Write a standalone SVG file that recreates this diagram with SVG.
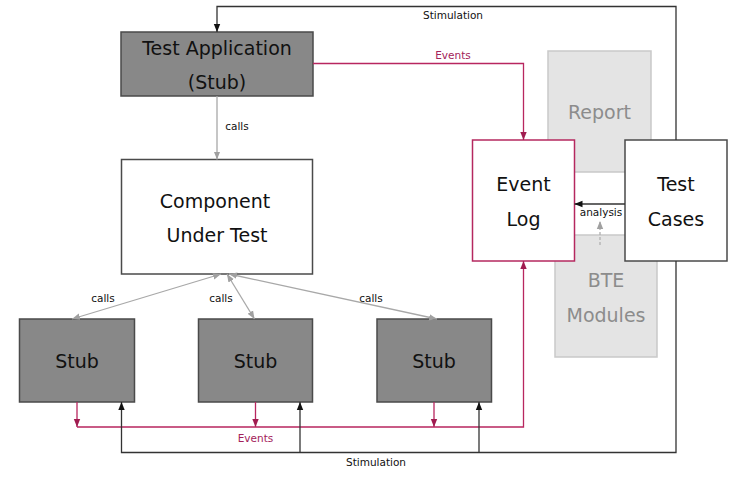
<svg xmlns="http://www.w3.org/2000/svg" width="748" height="478" viewBox="0 0 748 478">
<style>
text{font-family:"DejaVu Sans","Verdana",sans-serif;text-anchor:middle}
.big{font-size:19px;fill:#111}
.ghost{font-size:19px;fill:#8c8c8c}
.sm{font-size:10.5px;fill:#111}
.smp{font-size:10.5px;fill:#a3225a}
.stub{fill:#888;stroke:#4a4a4a;stroke-width:1.5}
.white{fill:#fff;stroke:#4a4a4a;stroke-width:1.5}
.log{fill:#fff;stroke:#b5285f;stroke-width:1.5}
.pale{fill:#e4e4e4;stroke:#c9c9c9;stroke-width:1.5}
.blk{fill:none;stroke:#333;stroke-width:1.3}
.pink{fill:none;stroke:#b8265f;stroke-width:1.3}
.gry{fill:none;stroke:#a8a8a8;stroke-width:1.3}
.dash{fill:none;stroke:#b0b0b0;stroke-width:1.3;stroke-dasharray:3,2}
</style>
<defs>
<marker id="ab" markerUnits="userSpaceOnUse" markerWidth="8" markerHeight="8" viewBox="0 0 8 8" refX="8" refY="4" orient="auto"><path d="M0,0.8 L8,4 L0,7.2z" fill="#111"/></marker>
<marker id="ap" markerUnits="userSpaceOnUse" markerWidth="8" markerHeight="8" viewBox="0 0 8 8" refX="8" refY="4" orient="auto"><path d="M0,0.8 L8,4 L0,7.2z" fill="#a01c50"/></marker>
<marker id="ag" markerUnits="userSpaceOnUse" markerWidth="8" markerHeight="8" viewBox="0 0 8 8" refX="8" refY="4" orient="auto-start-reverse"><path d="M0,0.8 L8,4 L0,7.2z" fill="#a0a0a0"/></marker>
</defs>
<g id="bte"><rect class="pale" x="555" y="235" width="102" height="122"/><text class="ghost" x="606" y="287">BTE</text><text class="ghost" x="606" y="321.5">Modules</text></g>
<g id="report"><rect class="pale" x="548" y="51" width="103" height="121"/><text class="ghost" x="599.5" y="119">Report</text></g>
<g id="event-log"><rect class="log" x="472.5" y="140" width="102" height="121"/><text class="big" x="523.5" y="190.5">Event</text><text class="big" x="523.5" y="225.5">Log</text></g>
<g id="test-cases"><rect class="white" x="625" y="140" width="102" height="121"/><text class="big" x="676" y="190.5">Test</text><text class="big" x="676" y="225.5">Cases</text></g>
<g id="test-app"><rect class="stub" x="121" y="32" width="192" height="64"/><text class="big" x="217" y="55">Test Application</text><text class="big" x="217" y="88.5">(Stub)</text></g>
<g id="cut"><rect class="white" x="121.5" y="159.5" width="191" height="114.5"/><text class="big" x="215" y="208">Component</text><text class="big" x="217" y="242">Under Test</text></g>
<g id="stub1"><rect class="stub" x="19.5" y="319" width="115" height="83"/><text class="big" x="77" y="368">Stub</text></g>
<g id="stub2"><rect class="stub" x="198.5" y="319" width="114" height="83"/><text class="big" x="255.5" y="368">Stub</text></g>
<g id="stub3"><rect class="stub" x="377" y="319" width="114.5" height="83"/><text class="big" x="434" y="368">Stub</text></g>
<g id="connectors">
<path class="blk" d="M676,140 V6.5 H217 V32" marker-end="url(#ab)"/>
<text class="sm" x="453" y="19">Stimulation</text>
<path class="pink" d="M313,63.5 H523.5 V140" marker-end="url(#ap)"/>
<text class="smp" x="453" y="59">Events</text>
<path class="gry" d="M217,96 V159.5" marker-end="url(#ag)"/>
<text class="sm" x="237" y="129.5">calls</text>
<path class="gry" d="M221,274 L72,319" marker-start="url(#ag)" marker-end="url(#ag)"/>
<path class="gry" d="M227,274 L254.5,319" marker-start="url(#ag)" marker-end="url(#ag)"/>
<path class="gry" d="M229,274 L437,319" marker-start="url(#ag)" marker-end="url(#ag)"/>
<text class="sm" x="103" y="301.5">calls</text>
<text class="sm" x="221" y="301.5">calls</text>
<text class="sm" x="371" y="301.5">calls</text>
<path class="blk" d="M625,204 H574.5" marker-end="url(#ab)"/>
<text class="sm" x="601" y="216">analysis</text>
<path class="dash" d="M600,245 V221" marker-end="url(#ag)"/>
<path class="pink" d="M77,402 V427" marker-end="url(#ap)"/>
<path class="pink" d="M255.5,402 V427" marker-end="url(#ap)"/>
<path class="pink" d="M434,402 V427" marker-end="url(#ap)"/>
<path class="pink" d="M77,427 H523.5 V261" marker-end="url(#ap)"/>
<text class="smp" x="255.5" y="442">Events</text>
<path class="blk" d="M676,261 V452.5 H121.5 V402" marker-end="url(#ab)"/>
<path class="blk" d="M300,452.5 V402" marker-end="url(#ab)"/>
<path class="blk" d="M479,452.5 V402" marker-end="url(#ab)"/>
<text class="sm" x="376" y="465.5">Stimulation</text>
</g>
</svg>
